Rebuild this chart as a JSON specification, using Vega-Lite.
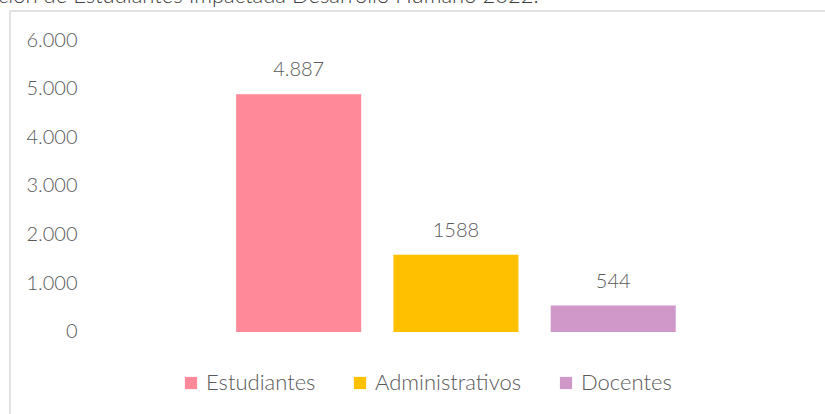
{
  "$schema": "https://vega.github.io/schema/vega-lite/v6.json",
  "autosize": "none",
  "padding": {"left": 10, "top": 11, "right": 0, "bottom": 0},
  "width": 823,
  "height": 410,
  "background": "white",
  "title": {
    "text": "ción de Estudiantes Impactada Desarrollo Humano 2022.",
    "anchor": "start",
    "frame": "group",
    "dx": -12,
    "dy": 14,
    "offset": 0,
    "baseline": "alphabetic",
    "font": "Lato",
    "fontSize": 22,
    "fontWeight": 300,
    "color": "#404040"
  },
  "config": {
    "view": {"stroke": "#d9d9d9", "strokeWidth": 1.5},
    "font": "Lato"
  },
  "data": {
    "values": [
      {"grupo": "Estudiantes", "valor": 4887, "etiqueta": "4.887"},
      {"grupo": "Administrativos", "valor": 1588, "etiqueta": "1588"},
      {"grupo": "Docentes", "valor": 544, "etiqueta": "544"}
    ]
  },
  "encoding": {
    "x": {
      "field": "grupo",
      "type": "nominal",
      "sort": null,
      "axis": null,
      "scale": {
        "domain": ["_izq", "Estudiantes", "Administrativos", "Docentes", "_der"],
        "paddingInner": 0.205,
        "paddingOuter": 0.219,
        "align": 1,
        "round": false
      }
    },
    "y": {
      "field": "valor",
      "type": "quantitative",
      "scale": {"domain": [-1829, 6596], "nice": false, "zero": false},
      "axis": {
        "values": [0, 1000, 2000, 3000, 4000, 5000, 6000],
        "labelExpr": "replace(format(datum.value, ','), ',', '.')",
        "ticks": false,
        "domain": false,
        "grid": false,
        "labelPadding": 0,
        "offset": -67,
        "labelFontSize": 20,
        "labelFont": "Lato",
        "labelFontWeight": 300,
        "labelColor": "#595959",
        "title": null
      }
    }
  },
  "layer": [
    {
      "mark": {"type": "bar"},
      "encoding": {
        "y2": {"datum": 0},
        "color": {
          "field": "grupo",
          "type": "nominal",
          "sort": null,
          "scale": {
            "domain": ["Estudiantes", "Administrativos", "Docentes"],
            "range": ["#FF8899", "#FFC000", "#D098C8"]
          },
          "legend": {
            "orient": "none",
            "legendX": 170,
            "legendY": 361,
            "padding": 0,
            "direction": "horizontal",
            "title": null,
            "symbolType": "square",
            "symbolSize": 150,
            "symbolStrokeWidth": 0,
            "labelFontSize": 22,
            "labelFont": "Lato",
            "labelFontWeight": 300,
            "labelColor": "#595959",
            "labelOffset": 4,
            "columnPadding": 33
          }
        }
      }
    },
    {
      "mark": {
        "type": "text",
        "baseline": "alphabetic",
        "dy": -18,
        "fontSize": 20,
        "font": "Lato",
        "fontWeight": 300,
        "color": "#595959"
      },
      "encoding": {
        "text": {"field": "etiqueta"}
      }
    }
  ]
}
